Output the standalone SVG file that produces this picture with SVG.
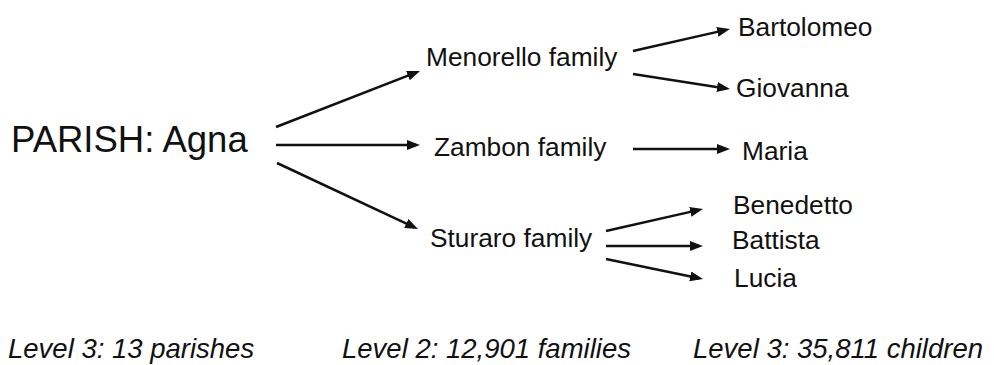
<svg xmlns="http://www.w3.org/2000/svg" width="994" height="365" viewBox="0 0 994 365">
  <style>
    .bg { fill: #ffffff; }
    .lbl { font-family: "Liberation Sans", Arial, Helvetica, sans-serif; fill: #111111; }
    .root { font-size: 36.5px; }
    .fam { font-size: 26.3px; }
    .kid { font-size: 26.3px; }
    .lvl { font-size: 27.5px; font-style: italic; }
    .edge { stroke: #111111; stroke-width: 2.5; fill: none; marker-end: url(#head); }
  </style>
  <defs>
    <marker id="head" markerUnits="userSpaceOnUse" markerWidth="14" markerHeight="11" refX="9" refY="5" orient="auto">
      <path d="M0,0 L13,5 L0,10 z" fill="#111111"/>
    </marker>
  </defs>

  <rect class="bg" x="0" y="0" width="994" height="365"/>

  <g id="connectors">
    <line class="edge" x1="276" y1="127" x2="416.3" y2="72.4"/>
    <line class="edge" x1="276" y1="145" x2="416" y2="145"/>
    <line class="edge" x1="277" y1="163" x2="414.4" y2="227.3"/>
    <line class="edge" x1="633" y1="51" x2="726.1" y2="29.9"/>
    <line class="edge" x1="633" y1="74" x2="726" y2="88.4"/>
    <line class="edge" x1="633" y1="149" x2="726" y2="149"/>
    <line class="edge" x1="606" y1="231" x2="699.1" y2="209.9"/>
    <line class="edge" x1="606" y1="246" x2="699" y2="246"/>
    <line class="edge" x1="606" y1="259" x2="699.1" y2="278.2"/>
  </g>

  <g id="parish-agna"><text class="lbl root" x="11" y="152">PARISH: Agna</text></g>

  <g id="menorello-family"><text class="lbl fam" x="426" y="66">Menorello family</text></g>
  <g id="zambon-family"><text class="lbl fam" x="434" y="156">Zambon family</text></g>
  <g id="sturaro-family"><text class="lbl fam" x="430" y="247">Sturaro family</text></g>

  <g id="bartolomeo"><text class="lbl kid" x="738" y="36">Bartolomeo</text></g>
  <g id="giovanna"><text class="lbl kid" x="736" y="97">Giovanna</text></g>
  <g id="maria"><text class="lbl kid" x="742" y="160">Maria</text></g>
  <g id="benedetto"><text class="lbl kid" x="733" y="214">Benedetto</text></g>
  <g id="battista"><text class="lbl kid" x="732" y="249">Battista</text></g>
  <g id="lucia"><text class="lbl kid" x="734" y="287">Lucia</text></g>

  <g id="level-captions">
    <text class="lbl lvl" x="8" y="358">Level 3: 13 parishes</text>
    <text class="lbl lvl" x="342" y="358">Level 2: 12,901 families</text>
    <text class="lbl lvl" x="693" y="358">Level 3: 35,811 children</text>
  </g>
</svg>
